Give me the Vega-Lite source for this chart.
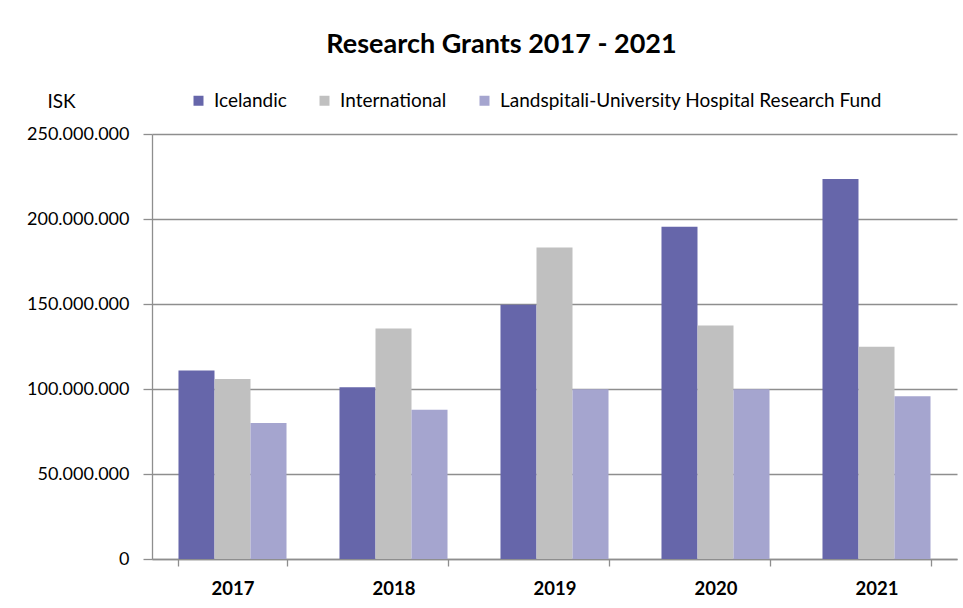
{
  "$schema": "https://vega.github.io/schema/vega-lite/v6.json",
  "autosize": "none",
  "width": 805,
  "height": 425,
  "padding": {"left": 152, "top": 134, "right": 6, "bottom": 49},
  "background": "white",
  "title": {
    "text": "Research Grants 2017 - 2021",
    "font": "Lato",
    "fontSize": 27,
    "fontWeight": "bold",
    "color": "#000000",
    "anchor": "middle",
    "baseline": "alphabetic",
    "dx": -53,
    "offset": 11
  },
  "data": {
    "values": [
      {"year": "2017", "series": "Icelandic", "value": 110900000},
      {"year": "2017", "series": "International", "value": 105900000},
      {"year": "2017", "series": "Landspitali-University Hospital Research Fund", "value": 80000000},
      {"year": "2018", "series": "Icelandic", "value": 101000000},
      {"year": "2018", "series": "International", "value": 135600000},
      {"year": "2018", "series": "Landspitali-University Hospital Research Fund", "value": 87800000},
      {"year": "2019", "series": "Icelandic", "value": 149600000},
      {"year": "2019", "series": "International", "value": 183200000},
      {"year": "2019", "series": "Landspitali-University Hospital Research Fund", "value": 99800000},
      {"year": "2020", "series": "Icelandic", "value": 195400000},
      {"year": "2020", "series": "International", "value": 137400000},
      {"year": "2020", "series": "Landspitali-University Hospital Research Fund", "value": 99800000},
      {"year": "2021", "series": "Icelandic", "value": 223600000},
      {"year": "2021", "series": "International", "value": 124800000},
      {"year": "2021", "series": "Landspitali-University Hospital Research Fund", "value": 95800000}
    ]
  },
  "mark": {"type": "bar"},
  "encoding": {
    "x": {
      "field": "year",
      "type": "nominal",
      "sort": ["2017", "2018", "2019", "2020", "2021"],
      "scale": {"paddingInner": 0.329, "paddingOuter": 0.1645},
      "axis": {
        "title": null,
        "labelAngle": 0,
        "labelFont": "Lato",
        "labelFontSize": 18.5,
        "labelFontWeight": "bold",
        "labelColor": "#000000",
        "labelPadding": 13,
        "tickBand": "extent",
        "tickSize": 7,
        "tickColor": "#8E8E8E",
        "domainColor": "#8E8E8E",
        "grid": false
      }
    },
    "xOffset": {
      "field": "series",
      "type": "nominal",
      "sort": ["Icelandic", "International", "Landspitali-University Hospital Research Fund"],
      "scale": {"paddingInner": 0, "paddingOuter": 0}
    },
    "y": {
      "field": "value",
      "type": "quantitative",
      "scale": {"domain": [0, 250000000], "nice": false},
      "axis": {
        "values": [0, 50000000, 100000000, 150000000, 200000000, 250000000],
        "format": ",d",
        "title": "ISK",
        "titleAngle": 0,
        "titleAlign": "center",
        "titleBaseline": "middle",
        "titleX": -91,
        "titleY": -33,
        "titleFont": "Lato",
        "titleFontSize": 19,
        "titleFontWeight": "normal",
        "titleColor": "#000000",
        "labelFont": "Lato",
        "labelFontSize": 18,
        "labelColor": "#000000",
        "labelPadding": 14,
        "tickSize": 9,
        "tickColor": "#8E8E8E",
        "domainColor": "#8E8E8E",
        "grid": true,
        "gridColor": "#8E8E8E",
        "gridWidth": 1.3
      }
    },
    "color": {
      "field": "series",
      "type": "nominal",
      "scale": {
        "domain": ["Icelandic", "International", "Landspitali-University Hospital Research Fund"],
        "range": ["#6666AA", "#C0C0C0", "#A5A5CF"]
      },
      "legend": {
        "title": null,
        "orient": "none",
        "direction": "horizontal",
        "legendX": 37,
        "legendY": -43,
        "padding": 0,
        "symbolType": "square",
        "symbolSize": 100,
        "symbolStrokeWidth": 0,
        "symbolOpacity": 1,
        "labelFont": "Lato",
        "labelFontSize": 19,
        "labelColor": "#000000",
        "labelOffset": 6,
        "columnPadding": 28,
        "labelLimit": 600
      }
    }
  },
  "config": {
    "locale": {
      "number": {"decimal": ",", "thousands": ".", "grouping": [3], "currency": ["", " kr."]}
    },
    "view": {"stroke": null},
    "axis": {"domainWidth": 1.3, "tickWidth": 1.3}
  }
}
